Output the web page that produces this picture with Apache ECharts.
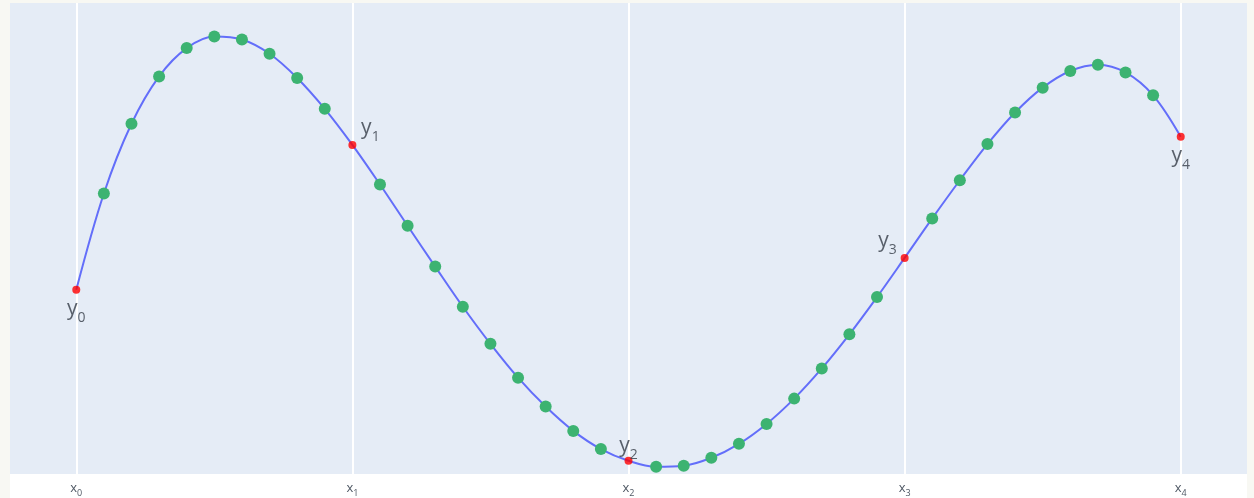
<!DOCTYPE html>
<html>
<head>
<meta charset="utf-8">
<script src="https://cdn.jsdelivr.net/npm/echarts@6/dist/echarts.min.js"></script>
<style>
  html, body { margin: 0; padding: 0; background: #f8f8f3; width: 1254px; height: 498px; overflow: hidden; }
  #chart { position: absolute; left: 10px; top: 3px; width: 1237px; height: 495px; background: #ffffff; }
</style>
</head>
<body>
<div id="chart"></div>
<script>
// Node (red) points
const nodeX = [0, 1, 2, 3, 4];
const nodeY = [1.85, 3.305, 0.133, 2.17, 3.387];
const nodeLabels = ['0', '1', '2', '3', '4'];
const tickLabels = ['0', '1', '2', '3', '4'];

// Intermediate (green) points
const greenX = [
  0.1, 0.2, 0.3, 0.4, 0.5, 0.6, 0.7, 0.8, 0.9,
  1.1, 1.2, 1.3, 1.4, 1.5, 1.6, 1.7, 1.8, 1.9,
  2.1, 2.2, 2.3, 2.4, 2.5, 2.6, 2.7, 2.8, 2.9,
  3.1, 3.2, 3.3, 3.4, 3.5, 3.6, 3.7, 3.8, 3.9
];
const greenY = [
  2.817, 3.517, 3.993, 4.277, 4.393, 4.363, 4.22, 3.977, 3.667,
  2.907, 2.493, 2.083, 1.68, 1.307, 0.967, 0.677, 0.433, 0.25,
  0.073, 0.083, 0.163, 0.303, 0.503, 0.757, 1.06, 1.403, 1.777,
  2.567, 2.95, 3.313, 3.63, 3.88, 4.047, 4.11, 4.033, 3.803
];

const labelPos = [
  { position: 'bottom', offset: [0, 0] },
  { position: 'top', offset: [18, 0] },
  { position: 'top', offset: [0, 2] },
  { position: 'top', offset: [-17, 0] },
  { position: 'bottom', offset: [0, 0] }
];

const linePts = [];
nodeX.forEach((x, i) => linePts.push([x, nodeY[i]]));
greenX.forEach((x, i) => linePts.push([x, greenY[i]]));
linePts.sort((a, b) => a[0] - b[0]);

const chart = echarts.init(document.getElementById('chart'), null, { renderer: 'canvas' });
const FONT = 'Open Sans, DejaVu Sans, sans-serif';
const richY = {
  m: { fontSize: 21, color: '#353c47', fontFamily: FONT, lineHeight: 24, verticalAlign: 'bottom' },
  s: { fontSize: 14, color: '#353c47', fontFamily: FONT, lineHeight: 24, verticalAlign: 'bottom', padding: [0, 0, -5, 0] }
};
chart.setOption({
  animation: false,
  backgroundColor: '#ffffff',
  grid: { left: 0, right: 0, top: 0, height: 473, containLabel: false, show: true, backgroundColor: '#E5ECF6', borderWidth: 0 },
  xAxis: {
    type: 'value', min: -0.24, max: 4.24,
    axisLine: { show: false }, axisTick: { show: false },
    splitLine: { show: false },
    axisLabel: {
      customValues: nodeX,
      margin: 6,
      formatter: function (v) { return '{a|x}{b|' + tickLabels[Math.round(v)] + '}'; },
      rich: {
        a: { fontSize: 13, color: '#4f5864', fontFamily: FONT, lineHeight: 15, verticalAlign: 'bottom' },
        b: { fontSize: 9, color: '#4f5864', fontFamily: FONT, lineHeight: 15, verticalAlign: 'bottom', padding: [0, 0, -3, 0] }
      }
    }
  },
  yAxis: {
    type: 'value', min: 0, max: 4.73,
    show: true,
    axisLine: { show: false }, axisTick: { show: false }, axisLabel: { show: false },
    splitLine: { show: false }
  },
  series: [
    {
      type: 'line', data: linePts, smooth: 0.35, showSymbol: false, z: 2,
      lineStyle: { color: '#636EFA', width: 2 },
      markLine: {
        silent: true, symbol: 'none', label: { show: false },
        lineStyle: { color: '#ffffff', width: 2, type: 'solid' },
        data: nodeX.map(x => ({ xAxis: x })),
        z: 1
      }
    },
    {
      type: 'scatter', data: greenX.map((x, i) => [x, greenY[i]]), symbolSize: 12, z: 3,
      itemStyle: { color: '#3CB371', opacity: 1 }
    },
    {
      type: 'scatter', z: 4, symbolSize: 8,
      itemStyle: { color: '#ff0000' },
      data: nodeX.map((x, i) => ({
        value: [x, nodeY[i]],
        label: {
          show: true, position: labelPos[i].position, offset: labelPos[i].offset, distance: 2,
          formatter: '{m|y}{s|' + nodeLabels[i] + '}', rich: richY
        }
      }))
    }
  ]
});
</script>
</body>
</html>
